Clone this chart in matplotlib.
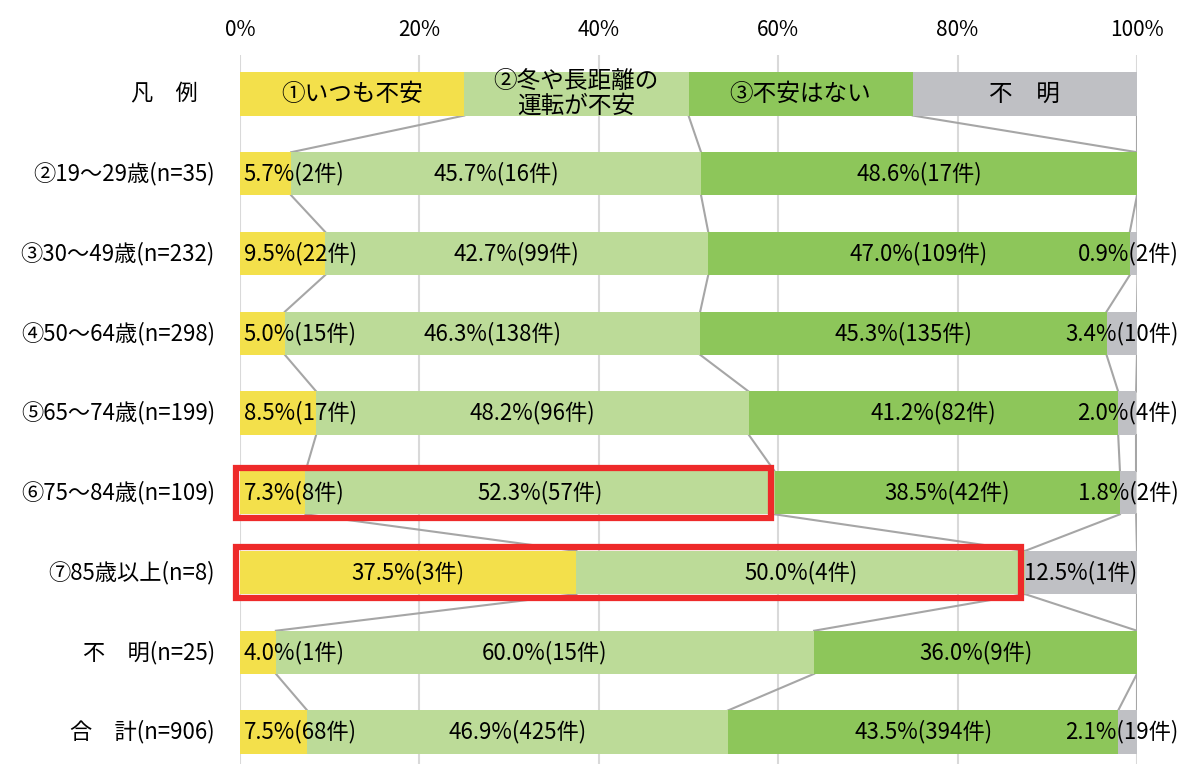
import numpy as np
import matplotlib
matplotlib.use('Agg')
import matplotlib.pyplot as plt
from matplotlib.patches import Rectangle

plt.rcParams['font.family'] = ['Noto Sans CJK JP', 'DejaVu Sans']

# --- data ---
categories = ['②19～29歳(n=35)', '③30～49歳(n=232)', '④50～64歳(n=298)',
              '⑤65～74歳(n=199)', '⑥75～84歳(n=109)', '⑦85歳以上(n=8)',
              '不　明(n=25)', '合　計(n=906)']
legend_names = ['①いつも不安', '②冬や長距離の\n運転が不安', '③不安はない', '不　明']
pct_always = [5.7, 9.5, 5.0, 8.5, 7.3, 37.5, 4.0, 7.5]
pct_winter = [45.7, 42.7, 46.3, 48.2, 52.3, 50.0, 60.0, 46.9]
pct_none = [48.6, 47.0, 45.3, 41.2, 38.5, 0.0, 36.0, 43.5]
pct_unknown = [0.0, 0.9, 3.4, 2.0, 1.8, 12.5, 0.0, 2.1]
cnt_always = [2, 22, 15, 17, 8, 3, 1, 68]
cnt_winter = [16, 99, 138, 96, 57, 4, 15, 425]
cnt_none = [17, 109, 135, 82, 42, 0, 9, 394]
cnt_unknown = [0, 2, 10, 4, 2, 1, 0, 19]
highlight_rows = ['⑥75～84歳(n=109)', '⑦85歳以上(n=8)']

colors = ['#f3e04b', '#bcdb98', '#8dc65a', '#bfc0c4']

pcts = np.array([pct_always, pct_winter, pct_none, pct_unknown]).T
cnts = np.array([cnt_always, cnt_winter, cnt_none, cnt_unknown]).T

# legend row is drawn as a 4 x 25% bar on top
legend_pct = np.full(4, 100 / len(legend_names))
all_pcts = np.vstack([legend_pct, pcts])
ypos = np.arange(len(all_pcts))
h = 0.54

fig = plt.figure(figsize=(11.83, 7.64), dpi=100)
ax = fig.add_axes([240 / 1183, 0, 897 / 1183, 709 / 764])

lefts = np.zeros(len(all_pcts))
for j in range(4):
    ax.barh(ypos, all_pcts[:, j], left=lefts, height=h, color=colors[j],
            edgecolor='none', zorder=2)
    lefts += all_pcts[:, j]

# connector lines between neighbouring bars
cum = np.cumsum(all_pcts, axis=1)
for i in range(len(all_pcts) - 1):
    for j in range(4):
        ax.plot([cum[i, j], cum[i + 1, j]], [ypos[i] + h / 2, ypos[i + 1] - h / 2],
                color='#a6a6a6', lw=1.5, zorder=1.5)

# legend texts
starts = cum - all_pcts
for j, name in enumerate(legend_names):
    ax.text(starts[0, j] + legend_pct[j] / 2, 0, name, ha='center', va='center',
            fontsize=17, linespacing=1.1, zorder=4)

# value labels
for i in range(len(categories)):
    y = ypos[i + 1]
    for j in range(4):
        p = pcts[i, j]
        if p == 0:
            continue
        s = f'{p:.1f}%({cnts[i, j]}件)'
        x0 = starts[i + 1, j]
        if j == 0 and p < 10:
            ax.text(x0 + 0.4, y, s, ha='left', va='center', fontsize=16, zorder=4)
        elif j == 3 and p < 5:
            ax.text(104.6, y, s, ha='right', va='center', fontsize=16, zorder=4)
        else:
            ax.text(x0 + p / 2, y, s, ha='center', va='center', fontsize=16, zorder=4)

# row labels
ax.text(-8.4, 0, '凡　例', ha='center', va='center', fontsize=16)
for i, c in enumerate(categories):
    ax.text(-2.8, ypos[i + 1], c, ha='right', va='center', fontsize=16)

# red highlight boxes
for c in highlight_rows:
    i = categories.index(c) + 1
    right = cum[i, 1] - 0.4
    ax.add_patch(Rectangle((-0.45, ypos[i] - h / 2 - 0.045), right + 0.45, h + 0.09,
                           fill=False, edgecolor='#ee2a2a', lw=4.5, zorder=5,
                           clip_on=False))

ax.set_xlim(0, 100)
ax.set_ylim(8.401, -0.489)
ax.set_xticks(np.arange(0, 101, 20))
ax.set_xticklabels([f'{t}%' for t in range(0, 101, 20)], fontsize=15)
ax.xaxis.tick_top()
ax.tick_params(axis='x', length=0, pad=10)
ax.set_yticks([])
ax.grid(axis='x', color='#d9d9d9', lw=1.5, zorder=0)
ax.set_axisbelow(True)
for sp in ax.spines.values():
    sp.set_visible(False)

fig.savefig('out.png', dpi=100)
